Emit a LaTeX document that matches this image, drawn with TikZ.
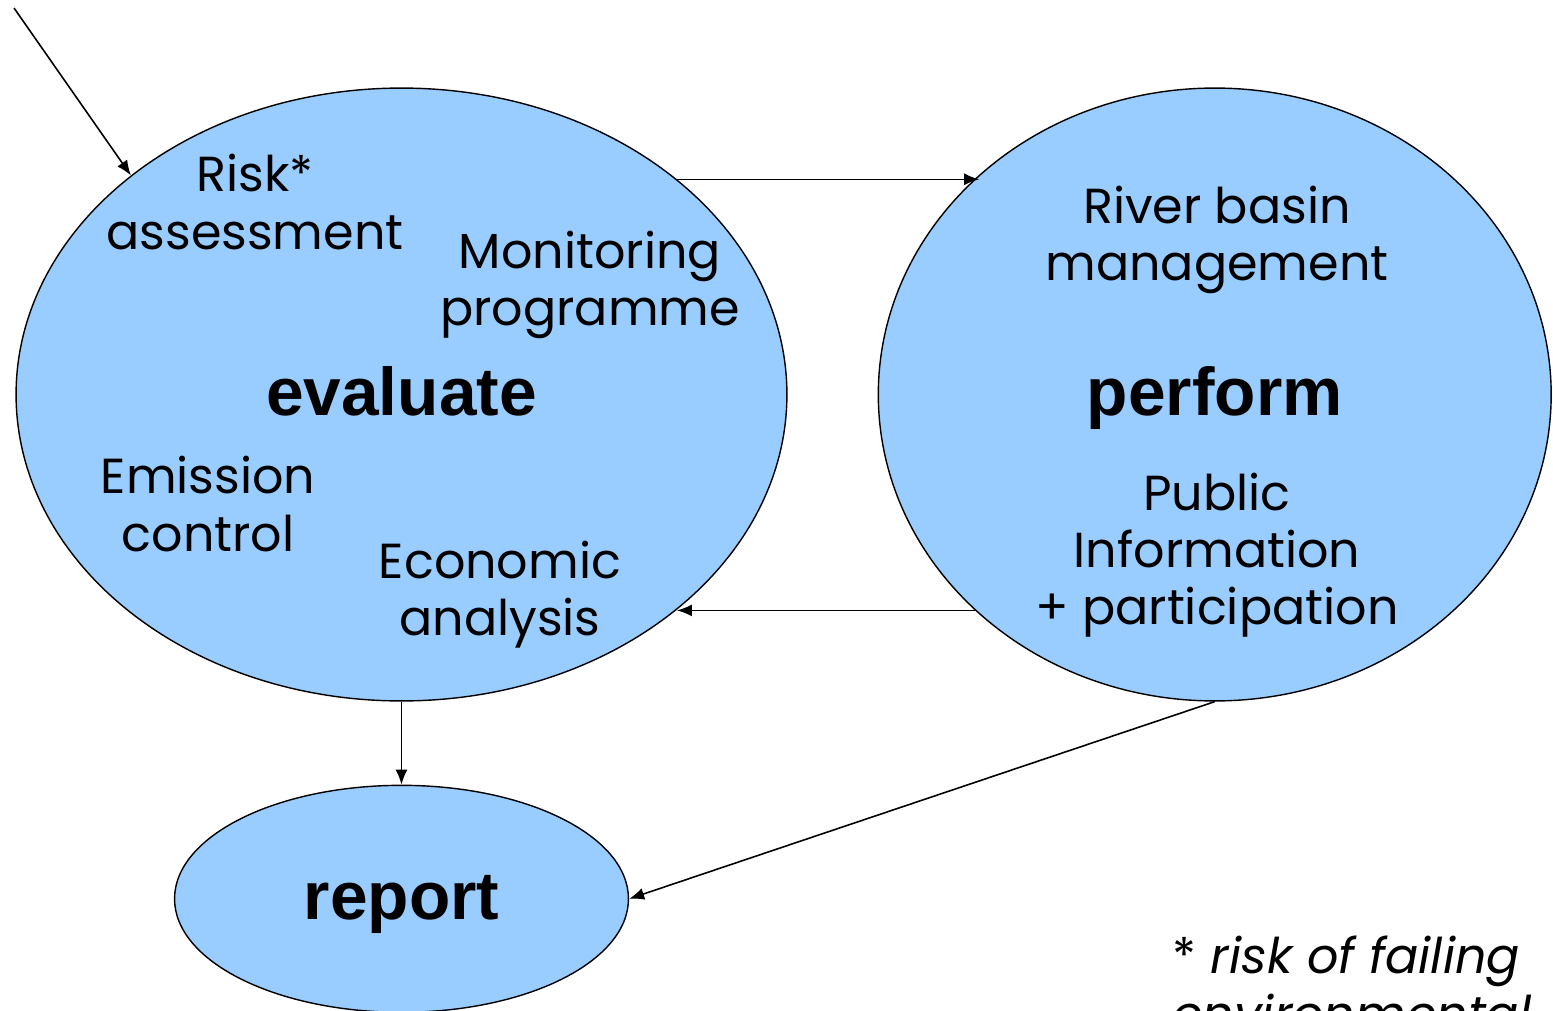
\documentclass[tikz,border=0pt]{standalone}
\usepackage{fontspec}
\setmainfont{Poppins}
\newfontfamily\labelfont{Liberation Sans}
\usetikzlibrary{positioning, shapes.geometric, arrows.meta}
\definecolor{skyblue}{RGB}{153,204,255}

\begin{document}
\begin{tikzpicture}[x=0.02cm, y=-0.02cm,
    every node/.style={inner sep=0pt},
    blob/.style={draw, ellipse, line width=0.8pt, fill=skyblue},
    txt/.style={align=center, font=\fontsize{28}{32.5}\selectfont},
    big/.style={anchor=base, font=\labelfont\bfseries\fontsize{38.5}{44}\selectfont},
    link/.style={line width=0.9pt, -{Latex[length=3mm, width=2.4mm]}}]
    \clip (0,0) rectangle (1553,1011);
    % the three phases, report sits under evaluate
    \node[blob, minimum width=15.42cm, minimum height=12.26cm] (ev) at (401.5,394.5) {};
    \node[blob, minimum width=13.46cm, minimum height=12.26cm, right=1.8cm of ev] (pf) {};
    \node[blob, minimum width=9.08cm, minimum height=4.54cm, below=1.66cm of ev] (rp) {};

    \node[big] (evl) at ([yshift=-0.42cm]ev.center) {evaluate};
    \node[big] (pfl) at ([yshift=-0.42cm]pf.center) {perform};
    \node[big] (rpl) at ([yshift=-0.42cm]rp.center) {report};

    \node[txt] (risk) at (255,202) {Risk*\\assessment};
    \node[txt] (mon) at (590,285) {Monitoring\\programme};
    \node[txt] (emi) at (208,504) {Emission\\control};
    \node[txt] (eco) at (500,595) {Economic\\analysis};
    \node[txt] (rbm) at (1217,240) {River basin\\management};
    \node[txt] (pub) at (1217,555) {Public\\Information\\+ participation};

    \node[txt, align=left, anchor=north west, font=\itshape\fontsize{28}{32.5}\selectfont] (note) at (1172,936) {\textup{*} risk of failing\\environmental};

    \coordinate (start) at (14,8);
    \draw[link] (start) to (ev.141.6);
    \draw[link] (ev.38.43) to (pf.137.73 |- ev.38.43);
    \draw[link] (pf.222.27) to (ev.-38.43 |- pf.222.27);
    \draw[link] (ev.south) to (rp.north);
    \draw[link] (pf.south) to (rp.east);
\end{tikzpicture}
\end{document}
